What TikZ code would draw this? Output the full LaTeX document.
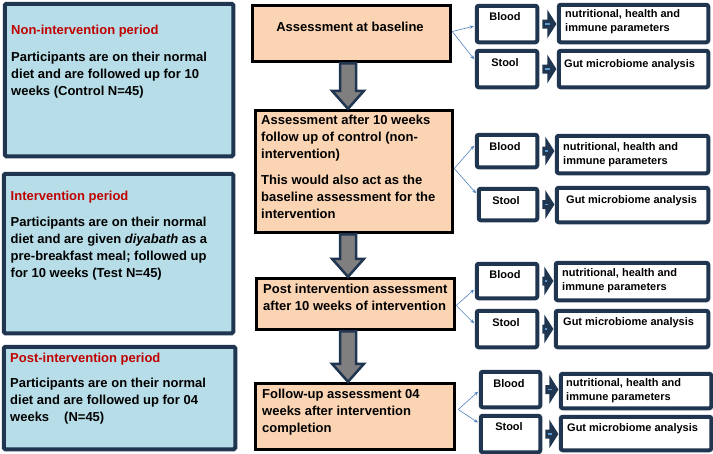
\documentclass[tikz,border=0pt]{standalone}
\usepackage{fontspec}
\setmainfont{Liberation Sans}
\usetikzlibrary{calc,arrows.meta}
\definecolor{navy}{HTML}{1F3550}
\definecolor{lblue}{HTML}{B7DEE8}
\definecolor{peach}{HTML}{FBD4B4}
\definecolor{tred}{HTML}{C00000}
\definecolor{cblue}{HTML}{4F81BD}
\definecolor{stripe}{HTML}{5B9BD5}
\definecolor{agray}{HTML}{7F7F7F}
\newcommand\mybox[6]{%
  \pgfmathsetmacro\mybw{#5-#3-3.5}\pgfmathsetmacro\mybh{#6-#4-3.5}%
  \node[#2, anchor=north west, minimum width=\mybw pt, minimum height=\mybh pt, inner sep=0pt] (#1) at (#3+1.75,#4+1.75) {};}
\newcommand\bigarr[2]{%
  \path (#1.south -| ax) coordinate (p1) (#2.north -| ax) coordinate (p2);
  \draw[bigarrow] ($(p1)+(-8,0)$) -- ($(p1)+(8,0)$) -- ($(p2)+(8,-18)$) -- ($(p2)+(16,-18)$) -- (p2)
    -- ($(p2)+(-16,-18)$) -- ($(p2)+(-8,-18)$) -- cycle;}
\newcommand\smallarr[2]{%
  \path ($(#1.east)+(4,0)$) coordinate (s) ($(#2.west |- #1.east)+(-1.5,0)$) coordinate (t);
  \draw[smallarrow] ($(s)+(0,-3.5)$) -- ($(t)+(-7,-3.5)$) -- ($(t)+(-7,-11)$) -- (t) -- ($(t)+(-7,11)$)
    -- ($(t)+(-7,3.5)$) -- ($(s)+(0,3.5)$) -- cycle;
  \draw[stripe, line width=1.8pt] ($(s)+(1.5,0)$) -- ($(t)+(-5,0)$);}
\newcommand\fl{\rule{0pt}{10pt}}
\newcommand\sfl{\rule{0pt}{9pt}}
\begin{document}
\begin{tikzpicture}[x=1pt,y=-1pt,
  leftbox/.style={draw=navy, fill=lblue, line width=4pt, rounded corners=1.5pt},
  midbox/.style={draw=black, fill=peach, line width=3pt},
  rbox/.style={draw=navy, fill=white, line width=4pt, rounded corners=2pt},
  ttl/.style={anchor=base west, inner sep=0pt, text=tred, font=\fontsize{13}{17}\selectfont\bfseries},
  body/.style={anchor=north west, inner sep=0pt, align=left, font=\fontsize{13}{17}\selectfont\bfseries},
  mid/.style={inner sep=0pt, font=\fontsize{13}{17}\selectfont\bfseries},
  small/.style={inner sep=0pt, font=\fontsize{11}{14.5}\selectfont\bfseries},
  smallbody/.style={anchor=north west, inner sep=0pt, align=left, font=\fontsize{11}{14.5}\selectfont\bfseries},
  conn/.style={draw=cblue, line width=0.6pt, -{Stealth[length=4pt,width=3.5pt]}, shorten >=1pt},
  bigarrow/.style={draw=navy, fill=agray, line width=2.5pt, line join=miter},
  smallarrow/.style={draw=navy, fill=navy, line width=2pt, line join=miter}]
\useasboundingbox (0,0) rectangle (713,453);
\coordinate (ax) at (348,0);

% left boxes
\mybox{L1}{leftbox}{1}{0}{233}{156}
\mybox{L2}{leftbox}{0}{170}{233}{333}
\mybox{L3}{leftbox}{0}{343}{235}{449}
\node[ttl] (t1) at (11,34.5) {Non-intervention period};
\node[body] (b1) at (11,51.5) {\fl Participants are on their normal\\diet and are followed up for 10\\weeks (Control N=45)};
\node[ttl] (t2) at (10.5,200.5) {Intervention period};
\node[body] (b2) at (10.5,216.5) {\fl Participants are on their normal\\diet and are given \textit{diyabath} as a\\pre-breakfast meal; followed up\\for 10 weeks (Test N=45)};
\node[ttl] (t3) at (10,362.5) {Post-intervention period};
\node[body] (b3) at (10,377.5) {\fl Participants are on their normal\\diet and are followed up for 04\\weeks\hspace{15pt}(N=45)};

% centre boxes
\mybox{A}{midbox}{249}{2}{451}{62}
\mybox{B}{midbox}{252}{107}{453}{233}
\mybox{C}{midbox}{253}{275}{455}{330}
\mybox{D}{midbox}{252}{380}{455}{450}
\node[mid, anchor=base] (tA) at (350,31.5) {Assessment at baseline};
\node[body] (tB) at (261,114.5) {\fl Assessment after 10 weeks\\follow up of control (non-\\intervention)\\[8.5pt]This would also act as the\\baseline assessment for the\\intervention};
\node[body] (tC) at (263,283.5) {\fl Post intervention assessment\\after 10 weeks of intervention};
\node[body] (tD) at (262,388.5) {\fl Follow-up assessment 04\\weeks after intervention\\completion};

\bigarr{A}{B}
\bigarr{B}{C}
\bigarr{C}{D}

% right boxes row 1
\mybox{B1}{rbox}{473}{2}{537}{42}
\mybox{S1}{rbox}{473}{47}{537}{87}
\mybox{R1}{rbox}{555}{1}{708}{42}
\mybox{G1}{rbox}{555}{47}{708}{87}
% row 2
\mybox{B2}{rbox}{473}{131}{537}{167}
\mybox{S2}{rbox}{475}{185}{537}{220}
\mybox{R2}{rbox}{553}{132}{708}{173}
\mybox{G2}{rbox}{553}{184}{708}{222}
% row 3
\mybox{B3}{rbox}{473}{260}{537}{298}
\mybox{S3}{rbox}{473}{307}{537}{347}
\mybox{R3}{rbox}{552}{259}{708}{300}
\mybox{G3}{rbox}{552}{307}{708}{347}
% row 4
\mybox{B4}{rbox}{477}{368}{540}{407}
\mybox{S4}{rbox}{477}{412}{540}{452}
\mybox{R4}{rbox}{557}{370}{711}{408}
\mybox{G4}{rbox}{557}{413}{711}{450}

\node[small, anchor=base] (tb1) at (505,20) {Blood};
\node[small, anchor=base] (ts1) at (505,66) {Stool};
\node[smallbody] (tr1) at (565,8) {\sfl nutritional, health and\\immune parameters};
\node[small, anchor=base west] (tg1) at (564,67) {Gut microbiome analysis};

\node[small, anchor=base] (tb2) at (505,150) {Blood};
\node[small, anchor=base] (ts2) at (506,204) {Stool};
\node[smallbody] (tr2) at (563,141) {\sfl nutritional, health and\\immune parameters};
\node[small, anchor=base west] (tg2) at (566,203) {Gut microbiome analysis};

\node[small, anchor=base] (tb3) at (505,278) {Blood};
\node[small, anchor=base] (ts3) at (506,326) {Stool};
\node[smallbody] (tr3) at (562,267) {\sfl nutritional, health and\\immune parameters};
\node[small, anchor=base west] (tg3) at (563,325) {Gut microbiome analysis};

\node[small, anchor=base] (tb4) at (509,387) {Blood};
\node[small, anchor=base] (ts4) at (509,430) {Stool};
\node[smallbody] (tr4) at (566,377) {\sfl nutritional, health and\\immune parameters};
\node[small, anchor=base west] (tg4) at (567,431) {Gut microbiome analysis};

% small block arrows
\smallarr{B1}{R1}
\smallarr{S1}{G1}
\smallarr{B2}{R2}
\smallarr{S2}{G2}
\smallarr{B3}{R3}
\smallarr{S3}{G3}
\smallarr{B4}{R4}
\smallarr{S4}{G4}

% thin connectors
\draw[conn] ([yshift=2pt]A.east) -- ([yshift=-2pt]B1.west);
\draw[conn] ([yshift=2pt]A.east) -- ([yshift=9pt]S1.west);
\draw[conn] ([yshift=3pt]B.east) -- ([yshift=6pt]B2.west);
\draw[conn] ([yshift=3pt]B.east) -- ([yshift=10.5pt]S2.west);
\draw[conn] ([yshift=-1.5pt]C.east) -- ([yshift=-8pt]B3.west);
\draw[conn] ([yshift=-1.5pt]C.east) -- ([yshift=5pt]S3.west);
\draw[conn] ([xshift=2pt,yshift=7pt]D.east) -- ([yshift=-1.5pt]B4.west);
\draw[conn] ([xshift=2pt,yshift=7pt]D.east) -- ([yshift=11pt]S4.west);
\end{tikzpicture}
\end{document}
